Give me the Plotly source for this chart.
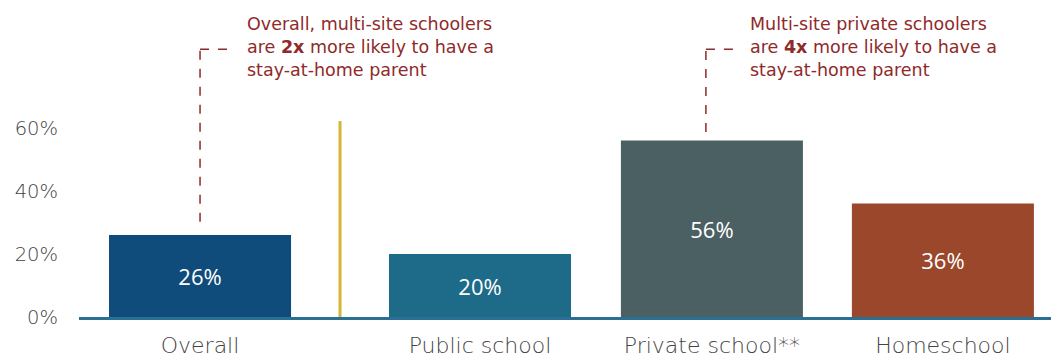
import plotly.graph_objects as go

# ---- data ----
categories = ["Overall", "Public school", "Private school**", "Homeschool"]
values = [26, 20, 56, 36]
value_labels = ["26%", "20%", "56%", "36%"]
y_ticks = [0, 20, 40, 60]
y_tick_labels = ["0%", "20%", "40%", "60%"]
note_left = "Overall, multi-site schoolers<br>are <b>2x</b> more likely to have a<br>stay-at-home parent"
note_right = "Multi-site private schoolers<br>are <b>4x</b> more likely to have a<br>stay-at-home parent"

# ---- layout positions / styles ----
x_pos = [0, 1.212, 2.216, 3.216]
bar_colors = ["#0f4b7b", "#1e6a89", "#4b6062", "#9a472c"]
note_color = "#8f2a2a"
font_family = "'DejaVu Sans', 'Open Sans', sans-serif"
value_font = "'Open Sans', 'DejaVu Sans', sans-serif"

fig = go.Figure()
fig.add_trace(go.Bar(
    x=x_pos, y=values, text=value_labels,
    marker=dict(color=bar_colors, line=dict(width=0)),
    width=0.788,
    textposition="inside", insidetextanchor="middle",
    textfont=dict(color="white", size=22, family=value_font, weight=400),
    textangle=0, hoverinfo="skip",
))

shapes = []
sep_x = (x_pos[0] + x_pos[1]) / 2
shapes.append(dict(type="line", xref="x", yref="y", x0=sep_x, x1=sep_x, y0=0, y1=62.2,
                   line=dict(color="#d6b535", width=3)))
for xv, ybot, xend in [(x_pos[0], 30.2, 0.139), (2.19, 58.7, 2.325)]:
    shapes.append(dict(type="line", xref="x", yref="y", x0=xv, x1=xv, y0=ybot, y1=85.0,
                       line=dict(color=note_color, width=1.5, dash="dash")))
    shapes.append(dict(type="line", xref="x", yref="y", x0=xv, x1=xend, y0=85.0, y1=85.0,
                       line=dict(color=note_color, width=1.5, dash="dash")))

annotations = [
    dict(x=0.195, y=85.7, xref="x", yref="y", text=note_left, showarrow=False,
         xanchor="left", yanchor="middle", align="left",
         font=dict(color=note_color, size=17.5, family=font_family)),
    dict(x=2.372, y=85.7, xref="x", yref="y", text=note_right, showarrow=False,
         xanchor="left", yanchor="middle", align="left",
         font=dict(color=note_color, size=17.5, family=font_family)),
]

fig.update_layout(
    width=1051, height=360,
    margin=dict(l=79, r=0, t=2, b=43),
    paper_bgcolor="white", plot_bgcolor="white",
    showlegend=False,
    shapes=shapes, annotations=annotations,
    font=dict(family=font_family),
    xaxis=dict(range=[-0.524, 3.684], tickvals=x_pos, ticktext=categories,
               showline=True, linecolor="#2a6f94", linewidth=2.5,
               showgrid=False, zeroline=False, ticks="", automargin=False,
               tickfont=dict(size=22, color="#444444", family=font_family, weight=200),
               ticklabelstandoff=7, fixedrange=True),
    yaxis=dict(range=[0, 100], tickvals=y_ticks, ticktext=y_tick_labels,
               showgrid=False, zeroline=False, showline=False, ticks="", automargin=False,
               tickfont=dict(size=19.5, color="#444444", family=font_family, weight=200),
               ticklabelstandoff=20, fixedrange=True),
)
fig.update_traces(cliponaxis=False)

fig.write_html("out.html")
